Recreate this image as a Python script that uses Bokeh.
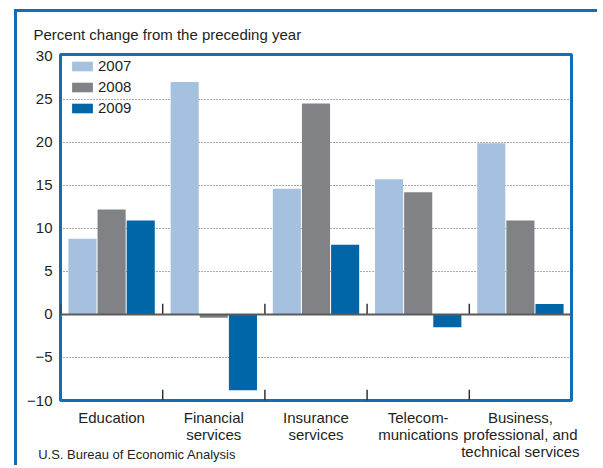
from bokeh.plotting import figure
from bokeh.models import (FactorRange, ColumnDataSource, Legend, LegendItem, Span,
                          FixedTicker, CategoricalAxis)
from bokeh.transform import dodge
from bokeh.embed import file_html
from bokeh.resources import INLINE

# ---- data ----
categories = ["Education", "Financial\nservices", "Insurance\nservices",
              "Telecom-\nmunications", "Business,\nprofessional, and\ntechnical services"]
years = ["2007", "2008", "2009"]
values_2007 = [8.8, 27.0, 14.6, 15.7, 19.9]
values_2008 = [12.2, -0.4, 24.5, 14.2, 10.9]
values_2009 = [10.9, -8.8, 8.1, -1.5, 1.2]
y_ticks = [-10, -5, 0, 5, 10, 15, 20, 25, 30]
grid_ticks = [-5, 5, 10, 15, 20, 25]
y_tick_labels = {-10: "\u221210", -5: "\u22125"}
y_title = "Percent change from the preceding year"
source_note = "U.S. Bureau of Economic Analysis"

# ---- style ----
FONT = "Liberation Sans"
TEXT = "#231f20"
BLUE = "#136db4"
C07 = "#a6c1df"
C08 = "#808285"
C09 = "#0066a8"

p = figure(x_range=FactorRange(*categories), y_range=(-10, 30.2),
           width=583, height=456, output_backend="svg", toolbar_location=None,
           min_border_left=43, min_border_right=29, min_border_top=40, min_border_bottom=68)
p.styles = {"margin-left": "14px", "margin-top": "9px",
            "border-left": "3px solid " + BLUE, "border-top": "3px solid " + BLUE}
p.outline_line_color = BLUE
p.outline_line_width = 3
p.background_fill_color = "white"
p.border_fill_color = "white"

src = ColumnDataSource(dict(cat=categories, v07=values_2007, v08=values_2008, v09=values_2009))
r07 = p.vbar(x=dodge("cat", -0.285, range=p.x_range), top="v07", width=0.275,
             source=src, fill_color=C07, line_color=None)
r08 = p.vbar(x=dodge("cat", 0.0, range=p.x_range), top="v08", width=0.275,
             source=src, fill_color=C08, line_color=None)
r09 = p.vbar(x=dodge("cat", 0.285, range=p.x_range), top="v09", width=0.275,
             source=src, fill_color=C09, line_color=None)

# zero line
p.add_layout(Span(location=0, dimension="width", line_color="#5a5a5a", line_width=2))

# group boundary ticks on zero line and bottom edge
tick_src = ColumnDataSource(dict(cat=categories))
p.segment(x0=dodge("cat", -0.5, range=p.x_range), y0=0,
          x1=dodge("cat", -0.5, range=p.x_range), y1=1.25,
          source=tick_src, line_color="#333333", line_width=1.5)
btick_src = ColumnDataSource(dict(cat=categories[1:]))
p.segment(x0=dodge("cat", -0.5, range=p.x_range), y0=-10,
          x1=dodge("cat", -0.5, range=p.x_range), y1=-8.75,
          source=btick_src, line_color="#333333", line_width=1.5)

# grid
p.xgrid.visible = False
p.ygrid.ticker = FixedTicker(ticks=grid_ticks)
p.ygrid.grid_line_color = "#555555"
p.ygrid.grid_line_dash = "1 2"
p.ygrid.grid_line_width = 1

# axes
p.yaxis.ticker = FixedTicker(ticks=y_ticks)
p.yaxis.major_label_overrides = y_tick_labels
p.yaxis.axis_line_color = None
p.yaxis.major_tick_line_color = None
p.yaxis.minor_tick_line_color = None
p.yaxis.major_tick_out = 0
p.yaxis.major_label_text_font = FONT
p.yaxis.major_label_text_font_size = "15px"
p.yaxis.major_label_text_color = TEXT
p.yaxis.major_label_standoff = 8

p.xaxis.axis_line_color = None
p.xaxis.major_tick_line_color = None
p.xaxis.major_tick_out = 0
p.xaxis.major_label_text_font = FONT
p.xaxis.major_label_text_font_size = "15px"
p.xaxis.major_label_text_line_height = 1.0
p.xaxis.major_label_text_color = TEXT
p.xaxis.major_label_standoff = 8

# source note as the label of a secondary categorical axis below
p.extra_x_ranges = {"note": FactorRange(source_note, " ", factor_padding=1.333)}
note_axis = CategoricalAxis(x_range_name="note")
note_axis.axis_line_color = None
note_axis.major_tick_line_color = None
note_axis.minor_tick_line_color = None
note_axis.major_tick_out = 0
note_axis.major_label_standoff = -16
note_axis.major_label_text_font = FONT
note_axis.major_label_text_font_size = "13px"
note_axis.major_label_text_color = TEXT
p.add_layout(note_axis, "below")

# header
p.title.text = y_title
p.title.align = "left"
p.title.offset = -27
p.title.standoff = 23
p.title.text_font = FONT
p.title.text_font_size = "15px"
p.title.text_font_style = "normal"
p.title.text_color = TEXT

# legend
legend = Legend(items=[LegendItem(label=years[0], renderers=[r07]),
                       LegendItem(label=years[1], renderers=[r08]),
                       LegendItem(label=years[2], renderers=[r09])],
                location=(9, 284))
legend.background_fill_alpha = 0
legend.border_line_color = None
legend.glyph_width = 26
legend.glyph_height = 12
legend.label_text_font = FONT
legend.label_text_font_size = "15px"
legend.label_text_color = TEXT
legend.label_standoff = 3
legend.spacing = 4
legend.padding = 0
legend.margin = 0
p.add_layout(legend)

open("out.html", "w").write(file_html(p, INLINE))
